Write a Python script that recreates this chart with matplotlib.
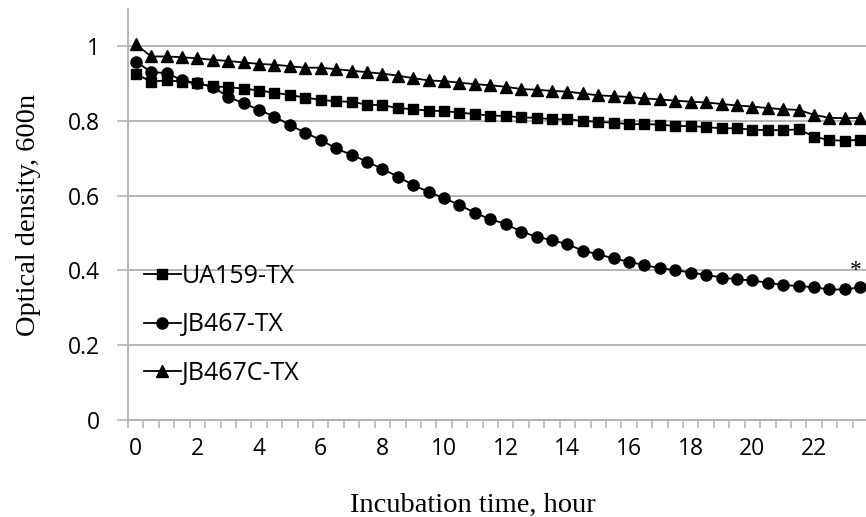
import numpy as np
import matplotlib
matplotlib.use("Agg")
import matplotlib.pyplot as plt
from matplotlib.ticker import FuncFormatter, MultipleLocator

# ── Data (one point every half hour) ─────────────────────────────────────────
hours = np.arange(0, 24, 0.5)

ua159 = [0.925, 0.905, 0.908, 0.905, 0.900, 0.892, 0.890, 0.886, 0.881, 0.875,
         0.869, 0.862, 0.856, 0.852, 0.851, 0.843, 0.842, 0.834, 0.831, 0.827,
         0.826, 0.822, 0.818, 0.814, 0.813, 0.809, 0.808, 0.804, 0.804, 0.800,
         0.797, 0.795, 0.791, 0.791, 0.790, 0.786, 0.786, 0.783, 0.780, 0.780,
         0.776, 0.775, 0.775, 0.777, 0.758, 0.748, 0.747, 0.749]

jb467 = [0.958, 0.931, 0.927, 0.909, 0.900, 0.891, 0.864, 0.847, 0.829, 0.811,
         0.789, 0.768, 0.749, 0.726, 0.709, 0.691, 0.671, 0.651, 0.628, 0.610,
         0.593, 0.575, 0.554, 0.537, 0.524, 0.504, 0.490, 0.481, 0.470, 0.453,
         0.443, 0.432, 0.423, 0.414, 0.406, 0.401, 0.394, 0.388, 0.381, 0.376,
         0.373, 0.367, 0.361, 0.358, 0.355, 0.349, 0.349, 0.355]

jb467c = [1.005, 0.972, 0.972, 0.970, 0.967, 0.963, 0.960, 0.956, 0.952, 0.950,
          0.946, 0.942, 0.942, 0.938, 0.934, 0.930, 0.926, 0.921, 0.914, 0.908,
          0.906, 0.902, 0.898, 0.895, 0.891, 0.885, 0.883, 0.880, 0.878, 0.873,
          0.868, 0.866, 0.864, 0.860, 0.857, 0.854, 0.851, 0.849, 0.845, 0.841,
          0.838, 0.834, 0.831, 0.829, 0.816, 0.808, 0.807, 0.808]

labels = ["UA159-TX", "JB467-TX", "JB467C-TX"]
x_ticks = np.arange(0, 23, 2)
y_ticks = [0, 0.2, 0.4, 0.6, 0.8, 1.0]

SANS = "Open Sans"
SERIF = "Liberation Serif"
GRID = "#b4b4b4"

# ── Figure ───────────────────────────────────────────────────────────────────
fig = plt.figure(figsize=(8.66, 5.17), dpi=100)
W, H = 866, 517
ax = fig.add_axes([128 / W, 97 / H, 740 / W, 411.4 / H])

ax.plot(hours, ua159, "-s", color="black", lw=1.3, ms=7.5, label=labels[0], clip_on=False)
ax.plot(hours, jb467, "-o", color="black", lw=1.3, ms=8, label=labels[1], clip_on=False)
ax.plot(hours, jb467c, "-^", color="black", lw=1.3, ms=8, label=labels[2], clip_on=False)

ax.annotate("*", xy=(hours[-1], jb467[-1]), xytext=(-3.5, 12), textcoords="offset points",
            ha="center", va="center", fontsize=17, family=SERIF)

ax.set_xlim(-0.25, 23.75)
ax.set_ylim(0, 1.1)
ax.set_yticks(y_ticks)
ax.yaxis.set_major_formatter(FuncFormatter(lambda v, _: f"{v:g}"))
ax.set_xticks(x_ticks)
ax.xaxis.set_minor_locator(MultipleLocator(0.5, offset=0.25))
ax.tick_params(axis="x", which="major", length=0, pad=12)
ax.tick_params(axis="x", which="minor", length=6, color=GRID, width=1.2)
ax.tick_params(axis="y", length=8, color=GRID, width=1.2, pad=12)
for lab in ax.get_xticklabels() + ax.get_yticklabels():
    lab.set_fontfamily(SANS)
    lab.set_fontsize(16.5)

ax.grid(axis="y", color=GRID, lw=1.4)
ax.set_axisbelow(True)
for side in ["top", "right"]:
    ax.spines[side].set_visible(False)
ax.spines["left"].set_color(GRID)
ax.spines["bottom"].set_color(GRID)
ax.spines["left"].set_linewidth(1.4)
ax.spines["bottom"].set_linewidth(1.4)

fig.text(473 / W, 1 - 512 / H, "Incubation time, hour", family=SERIF, fontsize=20.5,
         ha="center", va="baseline")
fig.text(29 / W, 1 - 215 / H, "Optical density, 600n", family=SERIF, fontsize=20.5,
         ha="center", va="center", rotation=90)

ax.legend(loc="center left", bbox_to_anchor=(0.008, 0.231), frameon=False,
          prop={"family": SANS, "size": 18}, handlelength=1.48, handletextpad=0.05,
          labelspacing=0.95, borderaxespad=0)

fig.savefig("out.png", dpi=100)
